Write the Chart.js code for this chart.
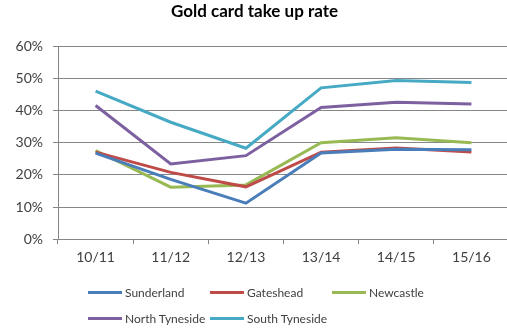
<!DOCTYPE html>
<html>
<head>
<meta charset="utf-8">
<script src="https://cdn.jsdelivr.net/npm/chart.js@4"></script>
<style>
  html, body { margin: 0; padding: 0; background: #fff; overflow: hidden; }
  #wrap { position: relative; width: 532px; height: 332px; }
  #legend { position: absolute; left: 88px; top: 285px; width: 400px;
            font: 12px Lato, "Liberation Sans", sans-serif; color: #404040; }
  .item { position: absolute; display: flex; align-items: center; white-space: nowrap; }
  .swatch { width: 34px; height: 3px; margin-right: 3px; }
</style>
</head>
<body>
<div id="wrap">
  <canvas id="chart" width="532" height="332"></canvas>
  <div id="legend"></div>
</div>
<script>
const years = ["10/11", "11/12", "12/13", "13/14", "14/15", "15/16"];

const sunderland    = [26.8, 18.6, 11.2, 26.8, 28.0, 27.8];
const gateshead     = [27.1, 20.8, 16.3, 27.1, 28.4, 27.1];
const newcastle     = [27.6, 16.2, 16.9, 30.0, 31.6, 30.0];
const northTyneside = [41.6, 23.4, 26.0, 41.0, 42.6, 42.1];
const southTyneside = [46.1, 36.4, 28.3, 47.1, 49.4, 48.8];

const yTicks = [0, 10, 20, 30, 40, 50, 60];

const series = [
    { label: "Sunderland",     data: sunderland,    color: "#4A7EBB" },
    { label: "Gateshead",      data: gateshead,     color: "#BE4B48" },
    { label: "Newcastle",      data: newcastle,     color: "#98B954" },
    { label: "North Tyneside", data: northTyneside, color: "#7D60A0" },
    { label: "South Tyneside", data: southTyneside, color: "#46AAC5" },
];

const font = "Lato, 'Liberation Sans', sans-serif";

new Chart(document.getElementById("chart"), {
    type: "line",
    data: {
        labels: years,
        datasets: series.map(s => ({
            label: s.label,
            data: s.data,
            borderColor: s.color,
            backgroundColor: s.color,
            borderWidth: 3,
            pointRadius: 0,
            tension: 0,
        })),
    },
    options: {
        responsive: false,
        animation: false,
        // canvas is wider than the window; the extra right padding moves the title centre right
        layout: { padding: { left: 0, right: 23, top: 1, bottom: 61 } },
        plugins: {
            legend: { display: false },
            tooltip: { enabled: false },
            title: {
                display: true,
                text: "Gold card take up rate",
                color: "#000",
                font: { family: font, size: 17, weight: "bold" },
                padding: { top: 0, bottom: 25 },
            },
        },
        scales: {
            x: {
                offset: true,
                grid: { drawOnChartArea: false, offset: true, tickLength: 5, color: "#868686" },
                border: { color: "#868686" },
                ticks: { color: "#404040", font: { family: font, size: 14 }, padding: 5 },
            },
            y: {
                min: 0,
                max: 60,
                afterBuildTicks: axis => { axis.ticks = yTicks.map(v => ({ value: v })); },
                afterFit: axis => { axis.width = 58; },
                grid: { color: "#868686", tickLength: 5 },
                border: { color: "#868686" },
                ticks: {
                    color: "#404040",
                    font: { family: font, size: 14 },
                    padding: 10,
                    callback: v => v + "%",
                },
            },
        },
    },
});

// legend: 3 per row like the original
const legend = document.getElementById("legend");
series.forEach((s, i) => {
    const el = document.createElement("div");
    el.className = "item";
    el.style.left = (i % 3) * 122 + "px";
    el.style.top = Math.floor(i / 3) * 26 + "px";
    el.innerHTML = '<span class="swatch" style="background:' + s.color + '"></span>' + s.label;
    legend.appendChild(el);
});
</script>
</body>
</html>
